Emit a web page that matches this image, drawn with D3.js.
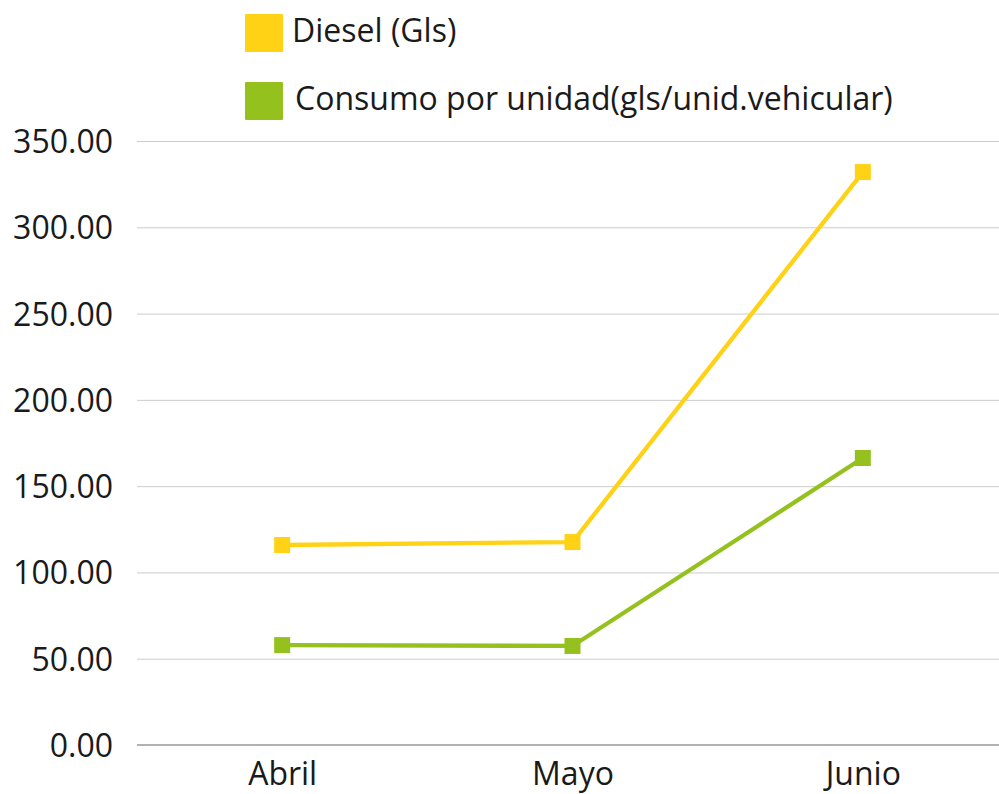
<!DOCTYPE html>
<html>
<head>
<meta charset="utf-8">
<script src="https://cdn.jsdelivr.net/npm/d3@7"></script>
<style>
  body { margin: 0; background: #fff; }
  svg text { font-family: "Open Sans", "Noto Sans", sans-serif; fill: #1a1a1a; }
</style>
</head>
<body>
<div id="chart"></div>
<script>
const months = ['Abril', 'Mayo', 'Junio'];
const diesel = [115.9, 117.6, 332.0];
const consumo = [57.9, 57.4, 166.3];
const yTicks = [0, 50, 100, 150, 200, 250, 300, 350];
const seriesNames = ['Diesel (Gls)', 'Consumo por unidad(gls/unid.vehicular)'];
const seriesColors = ['#ffd215', '#95c11f'];

const width = 999, height = 794;
const fontSize = 32;
const svg = d3.select('#chart').append('svg')
    .attr('width', width)
    .attr('height', height);

const x = d3.scalePoint()
    .domain(months)
    .range([137, 1008])
    .padding(0.5);

const y = d3.scaleLinear()
    .domain([0, 350])
    .range([745, 141]);

// gridlines
svg.append('g')
    .selectAll('line')
    .data(yTicks.filter(d => d > 0))
    .enter()
    .append('line')
    .attr('x1', 137)
    .attr('x2', width)
    .attr('y1', d => y(d) + 0.5)
    .attr('y2', d => y(d) + 0.5)
    .attr('stroke', '#cccccc')
    .attr('stroke-width', 1);

// baseline
svg.append('line')
    .attr('x1', 137)
    .attr('x2', width)
    .attr('y1', y(0))
    .attr('y2', y(0))
    .attr('stroke', '#999999')
    .attr('stroke-width', 1.5);

// y axis labels
const yAxis = d3.axisLeft(y)
    .tickValues(yTicks)
    .tickFormat(d3.format('.2f'))
    .tickSize(0)
    .tickPadding(0);

svg.append('g')
    .attr('transform', 'translate(113,0)')
    .call(yAxis)
    .call(g => g.select('.domain').remove())
    .call(g => g.selectAll('text')
        .attr('font-size', fontSize)
        .attr('dy', '0.36em')
        .attr('fill', '#1a1a1a')
        .style('font-family', '"Open Sans", sans-serif'));

// x axis labels
const xAxis = d3.axisBottom(x).tickSize(0).tickPadding(0);
svg.append('g')
    .call(xAxis)
    .call(g => g.select('.domain').remove())
    .call(g => g.selectAll('text')
        .attr('font-size', fontSize)
        .attr('y', 785)
        .attr('dy', 0)
        .attr('fill', '#1a1a1a')
        .style('font-family', '"Open Sans", sans-serif'));

// lines + markers
const line = d3.line()
    .x((d, i) => x(months[i]))
    .y(d => y(d));

[diesel, consumo].forEach((values, s) => {
    svg.append('path')
        .datum(values)
        .attr('d', line)
        .attr('fill', 'none')
        .attr('stroke', seriesColors[s])
        .attr('stroke-width', 4.3);

    svg.append('g')
        .selectAll('rect')
        .data(values)
        .enter()
        .append('rect')
        .attr('x', (d, i) => x(months[i]) - 8)
        .attr('y', d => y(d) - 8)
        .attr('width', 16)
        .attr('height', 16)
        .attr('fill', seriesColors[s]);
});

// legend
const legend = svg.append('g');
seriesNames.forEach((name, i) => {
    const top = 14 + i * 68;
    legend.append('rect')
        .attr('x', 245)
        .attr('y', top)
        .attr('width', 38)
        .attr('height', 38)
        .attr('rx', 1)
        .attr('fill', seriesColors[i]);
    legend.append('text')
        .attr('x', i === 0 ? 292 : 295)
        .attr('y', top + 28)
        .attr('font-size', fontSize)
        .text(name);
});
</script>
</body>
</html>
